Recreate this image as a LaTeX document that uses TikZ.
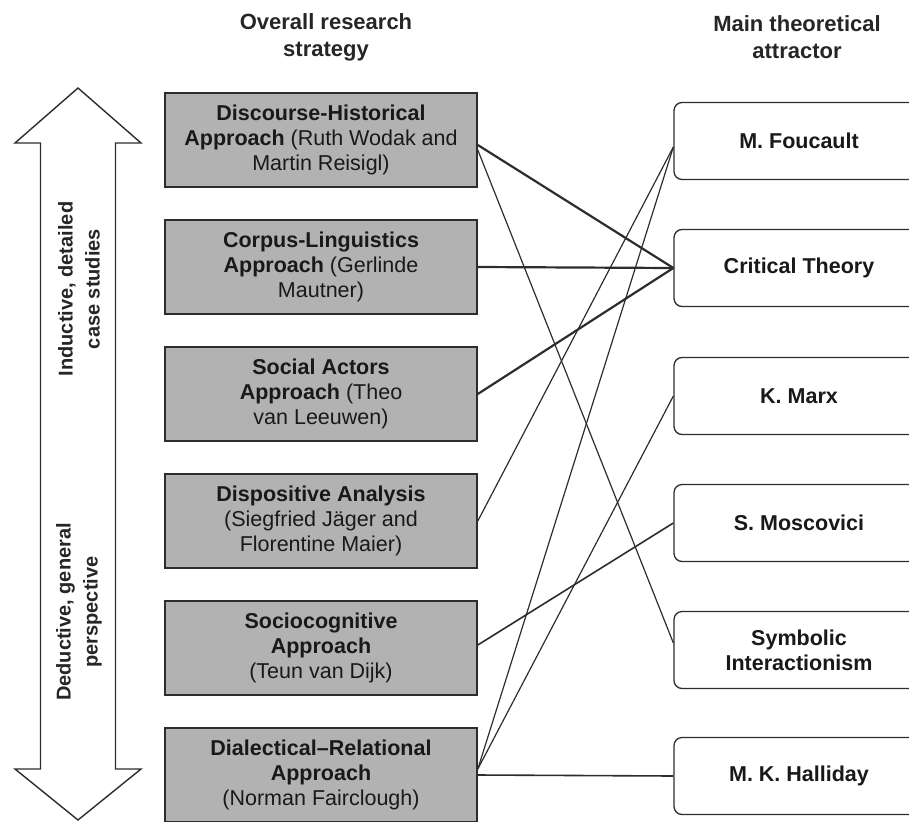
\documentclass[tikz,border=0pt]{standalone}
\usepackage{fontspec}
\setmainfont{Liberation Sans}
\usepackage{tikz}
\usetikzlibrary{arrows.meta}
\definecolor{boxgray}{RGB}{178,178,178}
\definecolor{inkgray}{RGB}{45,45,45}
\tikzset{>=stealth}
\tikzset{
  stratbox/.style={
    draw=inkgray, line width=1.6pt, fill=boxgray,
    minimum width=312pt, minimum height=94pt, inner sep=0pt,
    align=center, text=black!90,
    font=\fontsize{21.5}{25}\selectfont
  }}
\tikzset{
  theorybox/.style={
    draw=inkgray, line width=1.3pt, fill=white, rounded corners=8pt,
    minimum width=250pt, minimum height=77pt, inner sep=0pt,
    align=center, text=black!90,
    font=\bfseries\fontsize{21.5}{25}\selectfont
  }}
\tikzset{
  heading/.style={align=center, text=black!85,
    font=\bfseries\fontsize{22}{27}\selectfont},
  sidelabel/.style={align=center, rotate=90, text=black!85,
    font=\bfseries\fontsize{20}{27}\selectfont},
  heavylink/.style={draw=inkgray, line width=2.2pt},
  lightlink/.style={draw=inkgray, line width=1.2pt},
  midlink/.style={draw=inkgray, line width=1.6pt}
}

\begin{document}
\begin{tikzpicture}[x=1pt,y=-1pt]
    \useasboundingbox (0,0) rectangle (909,821);
    \node[heading] (lefthead) at (326,37) {Overall research\\strategy};
    \node[heading] (righthead) at (797,37) {Main theoretical\\attractor};
    % double arrow on the left
    \draw[draw=inkgray, line width=1.4pt, fill=white]
        (78,88) -- (141,143) -- (115.5,143) -- (115.5,769) -- (141,769)
        -- (78,820) -- (15,769) -- (40.5,769) -- (40.5,143) -- (15,143) -- cycle;
    \node[sidelabel] (inductive) at (79,289) {Inductive, detailed\\case studies};
    \node[sidelabel] (deductive) at (79,612) {Deductive, general\\perspective};
    \begin{scope}
        \node[stratbox] (dha) at (321,140)
            {\textbf{Discourse-Historical}\\\textbf{Approach} (Ruth Wodak and\\Martin Reisigl)};
        \node[stratbox] (corpus) at (321,267)
            {\textbf{Corpus-Linguistics}\\\textbf{Approach} (Gerlinde\\Mautner)};
        \node[stratbox] (actors) at (321,394)
            {\textbf{Social Actors}\\\textbf{Approach} (Theo\\van Leeuwen)};
        \node[stratbox] (dispositive) at (321,521)
            {\textbf{Dispositive Analysis}\\(Siegfried Jäger and\\Florentine Maier)};
        \node[stratbox] (sociocog) at (321,648)
            {\textbf{Sociocognitive}\\\textbf{Approach}\\(Teun van Dijk)};
        \node[stratbox] (dialectic) at (321,775)
            {\textbf{Dialectical--Relational}\\\textbf{Approach}\\(Norman Fairclough)};
    \end{scope}
    \begin{scope}
        \node[theorybox] (foucault) at (799,141) {M. Foucault};
        \node[theorybox] (critical) at (799,268) {Critical Theory};
        \node[theorybox] (marx) at (799,396) {K. Marx};
        \node[theorybox] (moscovici) at (799,523) {S. Moscovici};
        \node[theorybox] (symbolic) at (799,650) {Symbolic\\Interactionism};
        \node[theorybox] (halliday) at (799,776) {M. K. Halliday};
    \end{scope}
    \draw[heavylink] ([yshift=-5pt]dha.east) -- (critical.west);
    \draw[lightlink] ([yshift=-10pt]dha.east) -- ([yshift=7pt]symbolic.west);
    \draw[heavylink] (corpus.east) -- (critical.west);
    \draw[heavylink] (actors.east) -- (critical.west);
    \draw[lightlink] (dispositive.east) -- ([yshift=-6pt]foucault.west);
    \draw[midlink] ([yshift=3pt]sociocog.east) -- (moscovici.west);
    \draw[lightlink] ([yshift=6pt]dialectic.east) -- ([yshift=-6pt]foucault.west);
    \draw[lightlink] ([yshift=6pt]dialectic.east) -- (marx.west);
    \draw[midlink] (dialectic.east) -- (halliday.west);
\end{tikzpicture}
\end{document}
